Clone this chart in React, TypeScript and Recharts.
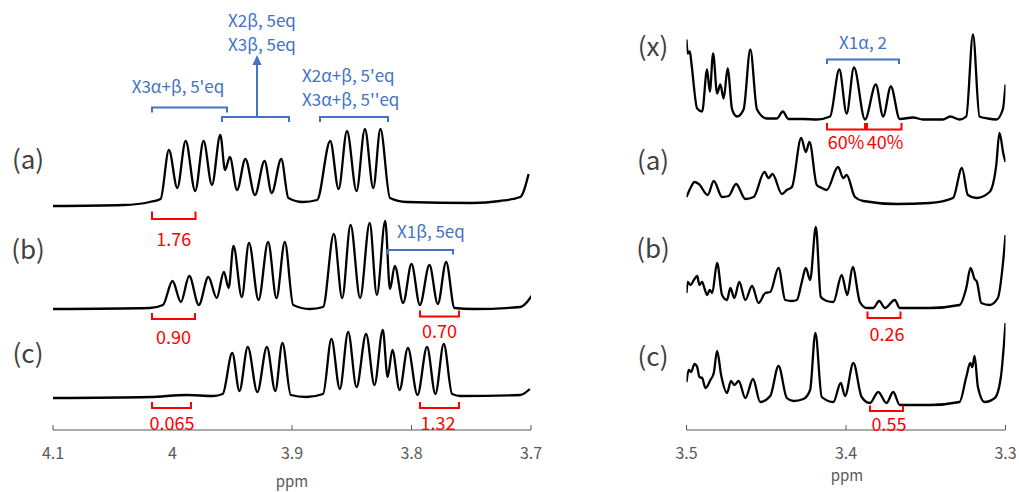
import React from 'react';
import { LineChart, Line, XAxis, YAxis } from 'recharts';

// [ppm, intensity]
const leftA: [number, number][] = [
  [4.1, 0], [4.041, 1], [4.019, 4], [4.01, 7], [4.003, 56], [3.996, 18], [3.989, 65], [3.981, 15],
  [3.974, 65], [3.967, 21], [3.96, 71], [3.956, 36], [3.952, 49], [3.946, 16], [3.939, 47], [3.931, 11],
  [3.923, 45], [3.917, 13], [3.909, 47], [3.903, 8], [3.891, 4], [3.879, 6], [3.868, 65], [3.861, 17],
  [3.854, 75], [3.846, 15], [3.839, 77], [3.832, 18], [3.826, 77], [3.818, 8], [3.804, 4], [3.749, 3],
  [3.726, 5], [3.709, 9], [3.702, 32],
];
const leftB: [number, number][] = [
  [4.1, 0], [4.019, 1], [4.008, 4], [4.0, 28], [3.993, 7], [3.986, 33], [3.978, 4], [3.97, 32],
  [3.963, 11], [3.957, 37], [3.953, 21], [3.949, 63], [3.942, 12], [3.936, 66], [3.928, 9], [3.92, 67],
  [3.913, 11], [3.906, 67], [3.899, 4], [3.885, 0], [3.874, 2], [3.865, 75], [3.858, 11], [3.851, 84],
  [3.843, 11], [3.835, 86], [3.829, 14], [3.822, 88], [3.818, 20], [3.814, 43], [3.807, 6], [3.8, 45],
  [3.793, 4], [3.785, 44], [3.778, 5], [3.771, 47], [3.764, 1], [3.748, 0], [3.709, 2], [3.699, 14],
];
const leftC: [number, number][] = [
  [4.1, 0], [4.019, 1], [3.988, 3], [3.966, 2], [3.958, 4], [3.95, 45], [3.944, 7], [3.937, 51],
  [3.929, 6], [3.921, 51], [3.914, 7], [3.908, 55], [3.901, 3], [3.888, 1], [3.874, 4], [3.867, 59],
  [3.86, 9], [3.853, 66], [3.846, 11], [3.838, 64], [3.831, 13], [3.824, 68], [3.82, 21], [3.816, 48],
  [3.81, 8], [3.803, 50], [3.795, 3], [3.787, 51], [3.78, 4], [3.773, 54], [3.766, 4], [3.759, 2],
  [3.709, 3], [3.701, 9],
];

const rightX: [number, number][] = [
  [3.5, 80], [3.4992, 66], [3.4979, 68], [3.4969, 56], [3.4933, 11], [3.4902, 8], [3.4871, 50],
  [3.4854, 28], [3.4833, 66], [3.4808, 26], [3.4788, 35], [3.4767, 21], [3.4742, 51], [3.4714, 10],
  [3.4683, 3], [3.4642, 10], [3.46, 70], [3.4558, 10], [3.4496, 1], [3.4433, 1], [3.4396, 8],
  [3.4361, 0.5], [3.4267, 0.5], [3.4183, 0], [3.41, 3], [3.4042, 50], [3.3996, 6], [3.395, 52],
  [3.3881, 0], [3.3813, 35], [3.3767, 3], [3.3719, 33], [3.3663, 0.5], [3.3579, 2], [3.3517, 0],
  [3.3392, 0], [3.3346, 3], [3.3288, 0], [3.3246, 3], [3.3204, 85], [3.3163, 3], [3.3111, 1],
  [3.3058, 0], [3.3017, 10], [3.3, 35],
];
const rightA: [number, number][] = [
  [3.5, 7], [3.4975, 16], [3.495, 22], [3.4923, 20], [3.4867, 9], [3.4829, 23], [3.4777, 7],
  [3.4736, 8], [3.4689, 20], [3.4631, 5], [3.4579, 7], [3.4511, 32], [3.4486, 26], [3.4461, 30],
  [3.4402, 10], [3.4371, 14], [3.4339, 17], [3.4281, 66], [3.4252, 52], [3.4229, 62], [3.4183, 19],
  [3.4152, 16], [3.4121, 14], [3.405, 37], [3.4017, 26], [3.3996, 29], [3.3944, 7], [3.3892, 3],
  [3.3683, 0], [3.3475, 1], [3.3329, 6], [3.3273, 36], [3.3236, 9], [3.3183, 6], [3.31, 12],
  [3.3058, 39], [3.3038, 71], [3.3013, 50], [3.3, 42],
];
const rightB: [number, number][] = [
  [3.5, 15], [3.4992, 26], [3.4975, 23], [3.4954, 28], [3.4933, 32], [3.4919, 23], [3.4902, 26],
  [3.4888, 20], [3.4871, 13], [3.4854, 18], [3.4839, 15], [3.4808, 45], [3.4777, 13], [3.4746, 8],
  [3.4725, 20], [3.47, 10], [3.4669, 26], [3.4631, 8], [3.4589, 22], [3.4548, 5], [3.4506, 15],
  [3.4475, 16], [3.4423, 40], [3.4381, 8], [3.4339, 7], [3.4308, 8], [3.4277, 26], [3.4252, 40],
  [3.4225, 28], [3.4189, 81], [3.4158, 11], [3.4121, 7], [3.4079, 6], [3.4027, 33], [3.3992, 13],
  [3.3958, 41], [3.3913, 6], [3.3871, 0], [3.3829, 0], [3.3792, 7], [3.3756, 0], [3.3694, 8],
  [3.3663, 0], [3.3475, 0], [3.3288, 3], [3.3246, 20], [3.3219, 40], [3.3194, 29], [3.3179, 26],
  [3.3152, 5], [3.31, 3], [3.3048, 10], [3.3017, 43], [3.3, 73],
];
const rightC: [number, number][] = [
  [3.5, 23], [3.4986, 35], [3.4971, 33], [3.495, 41], [3.4933, 38], [3.4919, 28], [3.4902, 27],
  [3.4881, 17], [3.485, 25], [3.4829, 32], [3.4808, 54], [3.4783, 30], [3.4746, 12], [3.4721, 24],
  [3.47, 20], [3.4673, 24], [3.4631, 7], [3.4583, 26], [3.4538, 3], [3.4475, 9], [3.4423, 39],
  [3.4371, 7], [3.4329, 4], [3.4267, 6], [3.4225, 15], [3.4192, 72], [3.4152, 8], [3.4079, 3],
  [3.4033, 22], [3.4006, 9], [3.3954, 42], [3.3902, 8], [3.385, 2], [3.3798, 13], [3.3746, 2],
  [3.3704, 13], [3.3663, 0], [3.3475, 0], [3.3288, 3], [3.3246, 28], [3.3221, 42], [3.3208, 38],
  [3.3194, 49], [3.3173, 18], [3.3131, 3], [3.3067, 7], [3.3029, 28], [3.3, 82],
];

const leftTicks = [4.1, 4, 3.9, 3.8, 3.7];
const rightTicks = [3.5, 3.4, 3.3];

const FONT = '"Noto Sans CJK JP", "Noto Sans", sans-serif';
const AXIS = '#595959';
const BLUE = '#4472C4';
const RED = '#FF0000';

const toPts = (tr: [number, number][], off: number) => tr.map(([x, v]) => ({ x, y: v + off }));

const trace = (key: string, tr: [number, number][], off: number) => (
  <Line
    key={key}
    data={toPts(tr, off)}
    dataKey="y"
    type="monotone"
    dot={false}
    stroke="#000"
    strokeWidth={2.3}
    isAnimationActive={false}
  />
);

const Spectrum = ({ left, width, margin, domain, ticks, children }: any) => (
  <div style={{ position: 'absolute', left, top: 0 }}>
    <LineChart width={width} height={492} margin={margin}>
      <XAxis
        type="number"
        dataKey="x"
        domain={domain}
        ticks={ticks}
        reversed
        allowDataOverflow
        height={62}
        stroke={AXIS}
        tickSize={-5}
        tickMargin={23}
        tickFormatter={(v: number) => String(v)}
        tick={{ fill: AXIS, fontSize: 16, fontFamily: FONT }}
      />
      <YAxis hide type="number" domain={[0, 430]} allowDataOverflow />
      {children}
    </LineChart>
  </div>
);

const RedBracket = ({ x1, x2, y1, y2, label, ly, lx }: any) => (
  <g>
    <polyline points={`${x1},${y1} ${x1},${y2} ${x2},${y2} ${x2},${y1}`} fill="none" stroke={RED} strokeWidth={2} />
    <text x={lx ?? (x1 + x2) / 2} y={ly} fill={RED} fontSize={18} textAnchor="middle" dominantBaseline="central">{label}</text>
  </g>
);

const BlueBracket = ({ x1, x2, y1, y2 }: any) => (
  <polyline points={`${x1},${y2} ${x1},${y1} ${x2},${y1} ${x2},${y2}`} fill="none" stroke={BLUE} strokeWidth={2} />
);

export default function App() {
  const lab = { fontSize: 26, fill: '#404040', textAnchor: 'middle' as const, dominantBaseline: 'central' as const };
  const blue = { fontSize: 17, fill: BLUE, dominantBaseline: 'central' as const };
  return (
    <div style={{ position: 'absolute', left: 0, top: 0, width: 1019, height: 492, background: '#fff', fontFamily: FONT }}>
      <Spectrum left={0} width={560} margin={{ top: 0, right: 29, bottom: 0, left: 53 }} domain={[3.7, 4.1]} ticks={leftTicks}>
        {trace('la', leftA, 224)}
        {trace('lb', leftB, 121)}
        {trace('lc', leftC, 32)}
      </Spectrum>
      <Spectrum left={600} width={419} margin={{ top: 0, right: 13.5, bottom: 0, left: 86.5 }} domain={[3.3, 3.5]} ticks={rightTicks}>
        {trace('rx', rightX, 310.5)}
        {trace('ra', rightA, 226)}
        {trace('rb', rightB, 122)}
        {trace('rc', rightC, 25)}
      </Spectrum>
      <svg width={1019} height={492} style={{ position: 'absolute', left: 0, top: 0, pointerEvents: 'none', fontFamily: FONT }}>
        <text x={292} y={480} fontSize={15} fill={AXIS} textAnchor="middle" dominantBaseline="central">ppm</text>
        <text x={847} y={474} fontSize={15} fill={AXIS} textAnchor="middle" dominantBaseline="central">ppm</text>

        <text x={28} y={157} {...lab}>(a)</text>
        <text x={28} y={247} {...lab}>(b)</text>
        <text x={28} y={351} {...lab}>(c)</text>
        <text x={653} y={44} {...lab}>(x)</text>
        <text x={653} y={158} {...lab}>(a)</text>
        <text x={653} y={246} {...lab}>(b)</text>
        <text x={653} y={354} {...lab}>(c)</text>

        <text x={262} y={19} {...blue} textAnchor="middle">X2β, 5eq</text>
        <text x={262} y={43} {...blue} textAnchor="middle">X3β, 5eq</text>
        <text x={178} y={85} {...blue} textAnchor="middle">X3α+β, 5'eq</text>
        <text x={302} y={74} {...blue}>X2α+β, 5'eq</text>
        <text x={302} y={98} {...blue}>X3α+β, 5''eq</text>
        <text x={397} y={230} {...blue}>X1β, 5eq</text>
        <text x={863} y={41} {...blue} textAnchor="middle">X1α, 2</text>

        <BlueBracket x1={152} x2={227} y1={107.5} y2={112.5} />
        <BlueBracket x1={222} x2={289} y1={117} y2={122} />
        <BlueBracket x1={320} x2={388} y1={117} y2={122} />
        <BlueBracket x1={387.5} x2={453} y1={250} y2={254.5} />
        <BlueBracket x1={827} x2={899} y1={59.5} y2={64} />
        <line x1={257} y1={117} x2={257} y2={64} stroke={BLUE} strokeWidth={2} />
        <polygon points="257,55 252.5,65 261.5,65" fill={BLUE} />

        <RedBracket x1={152} x2={195.5} y1={211.5} y2={219} label="1.76" ly={238} />
        <RedBracket x1={152} x2={195} y1={313} y2={319} label="0.90" ly={336} />
        <RedBracket x1={420} x2={459} y1={310.5} y2={316.5} label="0.70" ly={330} />
        <RedBracket x1={152} x2={191} y1={402} y2={408} label="0.065" ly={422} lx={172} />
        <RedBracket x1={420} x2={459} y1={402} y2={408} label="1.32" ly={422} lx={438} />
        <RedBracket x1={827} x2={865} y1={123} y2={129.5} label="60%" ly={141} lx={846} />
        <RedBracket x1={867} x2={901.5} y1={123} y2={129.5} label="40%" ly={141} lx={885} />
        <RedBracket x1={867.5} x2={900.5} y1={311.5} y2={318} label="0.26" ly={333} lx={887} />
        <RedBracket x1={870} x2={903} y1={405.5} y2={411} label="0.55" ly={423} lx={889} />
      </svg>
    </div>
  );
}
